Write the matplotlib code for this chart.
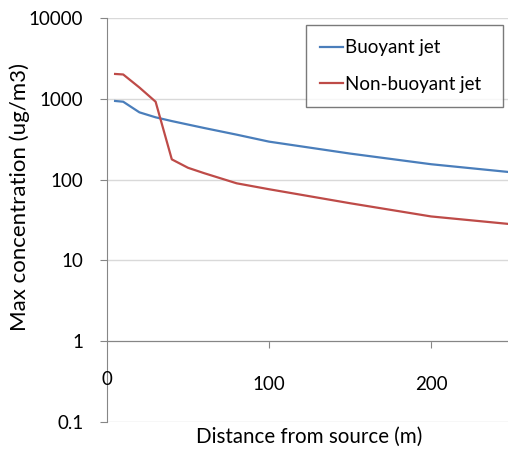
import matplotlib
matplotlib.use("Agg")
import matplotlib.pyplot as plt
from matplotlib.ticker import FixedLocator, FixedFormatter, NullLocator

# Data
distance = [5, 10, 20, 30, 40, 50, 60, 80, 100, 150, 200, 250]
buoyant = [940, 920, 680, 590, 530, 480, 435, 360, 295, 210, 155, 123]
non_buoyant = [2030, 2000, 1380, 920, 178, 140, 120, 90, 76, 51, 35, 28]

y_ticks = [0.1, 1, 10, 100, 1000, 10000]
y_labels = ["0.1", "1", "10", "100", "1000", "10000"]
x_ticks = [100, 200]
x_labels = ["100", "200"]

plt.rcParams["font.family"] = ["Lato", "DejaVu Sans"]
FS = 13.5
AX_GRAY = "#868686"

fig = plt.figure(figsize=(5.08, 4.5), dpi=100)
W, H = 508, 450
AX_L, AX_R, AX_T, AX_B = 107, 508, 18, 422
ax = fig.add_axes([AX_L / W, 1 - AX_B / H, (AX_R - AX_L) / W, (AX_B - AX_T) / H])

ax.plot(distance, buoyant, color="#4A7EBB", lw=1.6, label="Buoyant jet", zorder=3)
ax.plot(distance, non_buoyant, color="#BE4B48", lw=1.6, label="Non-buoyant jet", zorder=3)

ax.set_yscale("log")
ax.set_ylim(0.1, 10000)
ax.set_xlim(0, 247.5)

ax.yaxis.set_major_locator(FixedLocator(y_ticks))
ax.yaxis.set_major_formatter(FixedFormatter(y_labels))
ax.yaxis.set_minor_locator(NullLocator())
ax.xaxis.set_major_locator(FixedLocator(x_ticks))
ax.xaxis.set_major_formatter(FixedFormatter(x_labels))

ax.grid(axis="y", color="#D9D9D9", lw=1.0, zorder=0)
ax.set_axisbelow(True)

for s in ["top", "right"]:
    ax.spines[s].set_visible(False)
ax.spines["left"].set_color(AX_GRAY)
ax.spines["bottom"].set_color(AX_GRAY)
ax.spines["bottom"].set_position(("data", 1))

ax.tick_params(axis="y", direction="out", length=5, color=AX_GRAY, labelsize=FS, pad=12)
ax.tick_params(axis="x", direction="out", length=5, color=AX_GRAY, labelsize=FS, pad=20)

# the "0" label sits at the y-axis, level with the other x labels
ax.text(0, 10 ** (-(371 - 341) / 80.8), "0", fontsize=FS, ha="center", va="top")

fig.text(309 / W, 1 - 437 / H, "Distance from source (m)", fontsize=14.8, ha="center", va="center")
fig.text(20 / W, 1 - 197 / H, "Max concentration (ug/m3)", fontsize=16, ha="center", va="center",
         rotation=90)

# legend box: x 306..503, y 25..107 (pixels)
pw, ph = AX_R - AX_L, AX_B - AX_T
bbox = ((306 - AX_L) / pw, (AX_B - 107) / ph, (503 - 306) / pw, (107 - 25) / ph)
leg = ax.legend(loc="upper left", bbox_to_anchor=bbox, mode="expand", fontsize=FS,
                frameon=True, fancybox=False, handlelength=1.2, handletextpad=0.15,
                labelspacing=1.05, borderpad=0.75, borderaxespad=0)
leg.get_frame().set_edgecolor("#595959")
leg.get_frame().set_linewidth(1.0)

fig.savefig("out.png", dpi=100)
